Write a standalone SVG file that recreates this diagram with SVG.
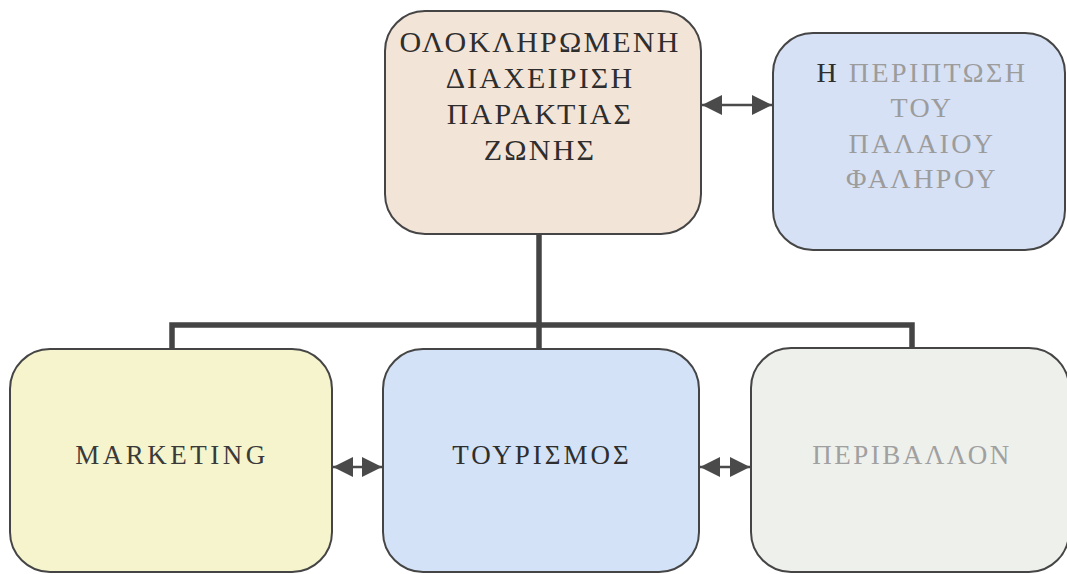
<svg xmlns="http://www.w3.org/2000/svg" width="1067" height="574" viewBox="0 0 1067 574">
<style>
.box{stroke:#454545;stroke-width:2}
.t{font-family:"Liberation Serif","Times New Roman",serif;text-anchor:middle}
.conn{stroke:#444;stroke-width:5.5;fill:none}
.ar{stroke:#4a4a4a;stroke-width:2.5;fill:none}
</style>
<defs>
<marker id="ah" viewBox="0 0 10 10" refX="10" refY="5" markerWidth="8" markerHeight="8" markerUnits="strokeWidth" orient="auto-start-reverse">
<path d="M0,0 L10,5 L0,10 Z" fill="#4a4a4a"/>
</marker>
</defs>
<rect width="1067" height="574" fill="#fff"/>
<g id="connectors">
<polyline class="conn" points="172,349 172,325 912,325 912,349"/>
<line class="conn" x1="539" y1="234" x2="539" y2="349"/>
<line class="ar" x1="702" y1="105" x2="772" y2="105" marker-start="url(#ah)" marker-end="url(#ah)"/>
<line class="ar" x1="333" y1="467" x2="382" y2="467" marker-start="url(#ah)" marker-end="url(#ah)"/>
<line class="ar" x1="700" y1="467" x2="750" y2="467" marker-start="url(#ah)" marker-end="url(#ah)"/>
</g>
<g id="n-main">
<rect class="box" x="385" y="11" width="316" height="223" rx="40" fill="#f3e4d8"/>
<text class="t" font-size="30" letter-spacing="2.2" fill="#2e2e2e"><tspan x="540" y="52">ΟΛΟΚΛΗΡΩΜΕΝΗ</tspan><tspan x="540" y="88">ΔΙΑΧΕΙΡΙΣΗ</tspan><tspan x="540" y="124">ΠΑΡΑΚΤΙΑΣ</tspan><tspan x="540" y="160">ΖΩΝΗΣ</tspan></text>
</g>
<g id="n-case">
<rect class="box" x="773" y="33" width="292" height="217" rx="40" fill="#d7e1f5"/>
<text class="t" font-size="28" letter-spacing="2.5" fill="#9c9c9c"><tspan x="922" y="82"><tspan fill="#2e2e2e">Η</tspan> ΠΕΡΙΠΤΩΣΗ</tspan><tspan x="922" y="117">ΤΟΥ</tspan><tspan x="922" y="153">ΠΑΛΑΙΟΥ</tspan><tspan x="922" y="188">ΦΑΛΗΡΟΥ</tspan></text>
</g>
<g id="n-marketing">
<rect class="box" x="10" y="349" width="322" height="223" rx="40" fill="#f5f4cd"/>
<text class="t" x="172" y="464" font-size="27" letter-spacing="3.5" fill="#3a3a3a">MARKETING</text>
</g>
<g id="n-tourism">
<rect class="box" x="383" y="349" width="316" height="223" rx="40" fill="#d3e2f6"/>
<text class="t" x="542" y="464" font-size="27" letter-spacing="3" fill="#2e2e2e">ΤΟΥΡΙΣΜΟΣ</text>
</g>
<g id="n-environment">
<rect class="box" x="751" y="348" width="318" height="224" rx="40" fill="#eef0ec"/>
<text class="t" x="912" y="464" font-size="27" letter-spacing="2.5" fill="#a0a0a0">ΠΕΡΙΒΑΛΛΟΝ</text>
</g>
</svg>
